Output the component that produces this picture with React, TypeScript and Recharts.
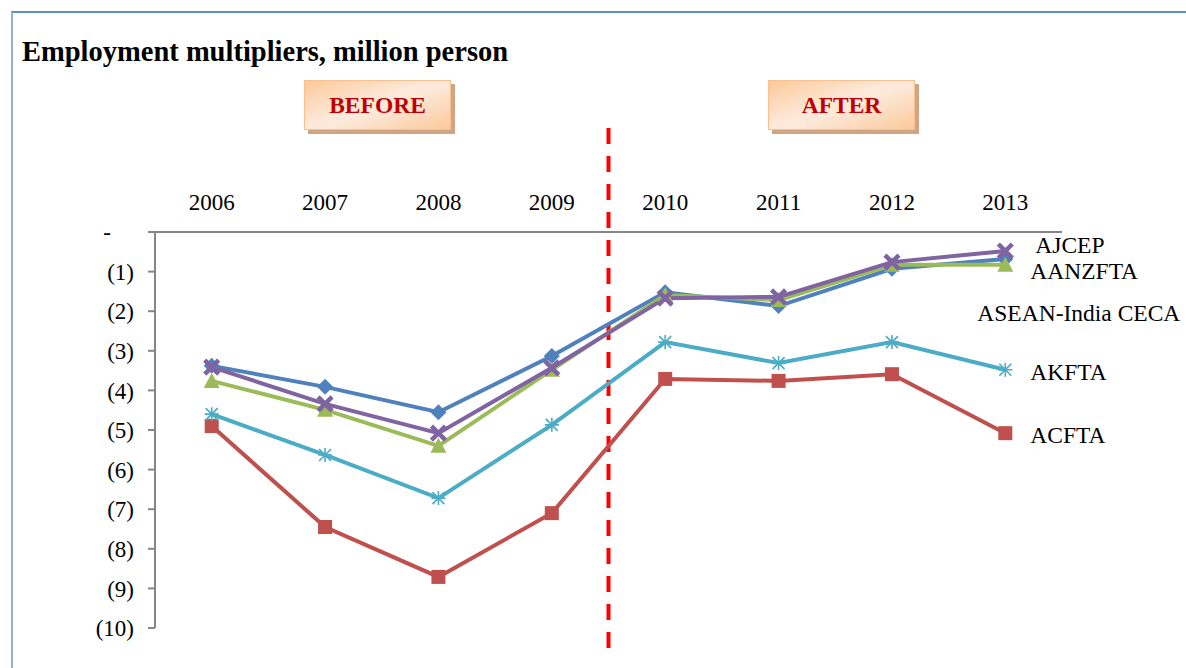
import { LineChart, Line, XAxis, YAxis, ReferenceLine, LabelList } from "recharts";

const years = ["2006", "2007", "2008", "2009", "2010", "2011", "2012", "2013"];
const aseanIndia = [-3.38, -3.91, -4.55, -3.13, -1.52, -1.87, -0.93, -0.68];
const acfta = [-4.9, -7.45, -8.71, -7.1, -3.71, -3.76, -3.59, -5.08];
const aanzfta = [-3.76, -4.49, -5.4, -3.48, -1.59, -1.72, -0.83, -0.83];
const ajcep = [-3.41, -4.34, -5.08, -3.43, -1.67, -1.64, -0.76, -0.48];
const akfta = [-4.6, -5.63, -6.72, -4.87, -2.78, -3.31, -2.78, -3.48];
const yTicks = [0, -1, -2, -3, -4, -5, -6, -7, -8, -9, -10];

const data = years.map((year, i) => ({
  x: i + 0.5,
  year,
  "ASEAN-India CECA": aseanIndia[i],
  ACFTA: acfta[i],
  AANZFTA: aanzfta[i],
  AJCEP: ajcep[i],
  AKFTA: akfta[i],
}));

const labelTicks = years.map((_, i) => i + 0.5);
const boundaryTicks = [0, 1, 2, 3, 4, 5, 6, 7, 8];

const FONT = '"Times New Roman", "Liberation Serif", serif';
const AXIS = "#868686";

type DotProps = { cx?: number; cy?: number; index?: number };

const Diamond = ({ cx = 0, cy = 0 }: DotProps) => (
  <path d={`M${cx},${cy - 8}L${cx + 8},${cy}L${cx},${cy + 8}L${cx - 8},${cy}Z`} fill="#4f81bd" />
);
const Square = ({ cx = 0, cy = 0 }: DotProps) => (
  <rect x={cx - 7} y={cy - 7} width={14} height={14} fill="#c0504d" />
);
const Triangle = ({ cx = 0, cy = 0 }: DotProps) => (
  <path d={`M${cx},${cy - 8}L${cx + 8},${cy + 7}L${cx - 8},${cy + 7}Z`} fill="#9bbb59" />
);
const Cross = ({ cx = 0, cy = 0 }: DotProps) => (
  <path
    d={`M${cx - 7},${cy - 7}L${cx + 7},${cy + 7}M${cx - 7},${cy + 7}L${cx + 7},${cy - 7}`}
    stroke="#8064a2"
    strokeWidth={4.5}
  />
);
const Star = ({ cx = 0, cy = 0 }: DotProps) => (
  <path
    d={`M${cx - 7},${cy}L${cx + 7},${cy}M${cx},${cy - 7}L${cx},${cy + 7}M${cx - 6},${cy - 6}L${cx + 6},${cy + 6}M${cx - 6},${cy + 6}L${cx + 6},${cy - 6}`}
    stroke="#4bacc6"
    strokeWidth={1.6}
  />
);

// label beside the last point of each series
const endLabel = (text: string, dx: number, dy: number) => (props: any) => {
  const { x, y, index } = props;
  if (index !== years.length - 1) return null;
  return (
    <text
      x={x + dx}
      y={y + dy}
      dominantBaseline="central"
      fontFamily={FONT}
      fontSize={23.5}
      fill="#000"
    >
      {text}
    </text>
  );
};

const DashedDivider = (props: any) => {
  const { x1, y1, x2, y2 } = props;
  return (
    <line
      x1={x1}
      x2={x2}
      y1={y1 - 104}
      y2={y2 + 20}
      stroke="#ff0000"
      strokeWidth={4}
      strokeDasharray="16 12"
    />
  );
};

const boxStyle = (left: number): React.CSSProperties => ({
  position: "absolute",
  left,
  top: 80,
  width: 145,
  height: 48,
  border: "1px solid #fac090",
  background: "linear-gradient(160deg, #fbc99a 0%, #fde9d9 45%, #fde9d9 55%, #fbc99a 100%)",
  boxShadow: "4px 4px 0 #cfa584",
  display: "flex",
  alignItems: "center",
  justifyContent: "center",
  fontFamily: FONT,
  fontWeight: "bold",
  fontSize: 23.5,
  color: "#c00000",
});

export default function App() {
  return (
    <div style={{ position: "absolute", left: 0, top: 0, width: 1186, height: 668, background: "#fff", overflow: "hidden" }}>
      <div
        style={{
          position: "absolute",
          left: 11,
          top: 11,
          width: 1200,
          height: 700,
          borderTop: "2px solid #5f8bc6",
          borderLeft: "2px solid #95b3d7",
        }}
      />
      <div
        style={{
          position: "absolute",
          left: 22,
          top: 36,
          fontFamily: FONT,
          fontWeight: "bold",
          fontSize: 28.5,
          color: "#000",
          whiteSpace: "nowrap",
        }}
      >
        Employment multipliers, million person
      </div>
      <div style={boxStyle(304)}>BEFORE</div>
      <div style={boxStyle(768)}>AFTER</div>
      <div style={{ position: "absolute", left: 0, top: 0 }}>
        <LineChart width={1186} height={668} data={data} margin={{ top: 0, right: 124, bottom: 40, left: 0 }}>
          <XAxis
            xAxisId="lab"
            type="number"
            dataKey="x"
            domain={[0, 8]}
            orientation="top"
            ticks={labelTicks}
            tickFormatter={(v: number) => years[Math.floor(v)]}
            axisLine={false}
            tickLine={false}
            tickSize={0}
            tickMargin={22}
            height={232}
            interval={0}
            tick={{ fontFamily: FONT, fontSize: 23, fill: "#000" }}
          />
          <XAxis
            xAxisId="grid"
            type="number"
            dataKey="x"
            domain={[0, 8]}
            orientation="top"
            mirror
            ticks={boundaryTicks}
            tick={false}
            tickSize={5}
            interval={0}
            axisLine={{ stroke: AXIS, strokeWidth: 2 }}
            tickLine={{ stroke: AXIS, strokeWidth: 2 }}
          />
          <YAxis
            type="number"
            domain={[-10, 0]}
            ticks={yTicks}
            interval={0}
            width={155}
            tickSize={7}
            tickMargin={14}
            axisLine={{ stroke: AXIS, strokeWidth: 2 }}
            tickLine={{ stroke: AXIS, strokeWidth: 2 }}
            tickFormatter={(v: number) => (v === 0 ? "-\u00a0\u00a0\u00a0\u00a0" : `(${-v})`)}
            tick={{ fontFamily: FONT, fontSize: 23, fill: "#000" }}
          />
          <ReferenceLine xAxisId="lab" x={4} shape={DashedDivider} />
          <Line
            xAxisId="lab"
            dataKey="ASEAN-India CECA"
            stroke="#4f81bd"
            strokeWidth={4}
            dot={<Diamond />}
            isAnimationActive={false}
          >
            <LabelList dataKey="ASEAN-India CECA" content={endLabel("ASEAN-India CECA", -28, 54)} />
          </Line>
          <Line
            xAxisId="lab"
            dataKey="ACFTA"
            stroke="#c0504d"
            strokeWidth={4}
            dot={<Square />}
            isAnimationActive={false}
          >
            <LabelList dataKey="ACFTA" content={endLabel("ACFTA", 25, 2)} />
          </Line>
          <Line
            xAxisId="lab"
            dataKey="AANZFTA"
            stroke="#9bbb59"
            strokeWidth={4}
            dot={<Triangle />}
            isAnimationActive={false}
          >
            <LabelList dataKey="AANZFTA" content={endLabel("AANZFTA", 25, 6)} />
          </Line>
          <Line
            xAxisId="lab"
            dataKey="AJCEP"
            stroke="#8064a2"
            strokeWidth={4}
            dot={<Cross />}
            isAnimationActive={false}
          >
            <LabelList dataKey="AJCEP" content={endLabel("AJCEP", 30, -6)} />
          </Line>
          <Line
            xAxisId="lab"
            dataKey="AKFTA"
            stroke="#4bacc6"
            strokeWidth={4}
            dot={<Star />}
            isAnimationActive={false}
          >
            <LabelList dataKey="AKFTA" content={endLabel("AKFTA", 25, 2)} />
          </Line>
        </LineChart>
      </div>
    </div>
  );
}
